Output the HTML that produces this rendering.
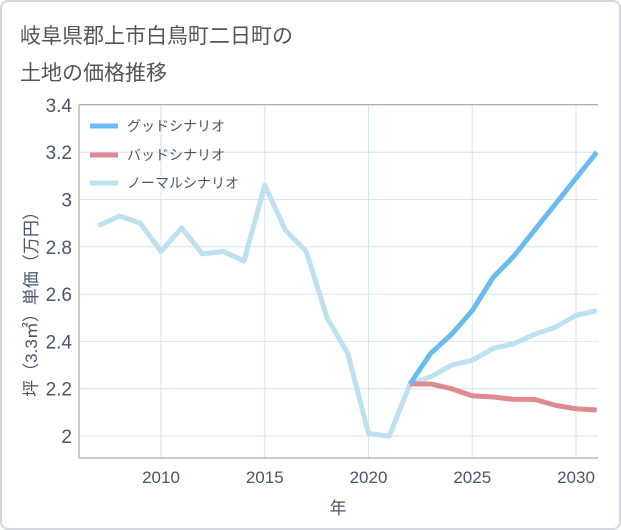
<!DOCTYPE html>
<html><head><meta charset="utf-8"><style>
body{margin:0;background:#fff;font-family:"Liberation Sans","Noto Sans CJK JP",sans-serif}
#wrap{position:relative;width:617px;height:526px;border:2px solid #d4d8de;border-radius:8px;background:#fff}
#title{position:absolute;left:18px;top:16px;font-size:21px;line-height:37px;color:#555}
</style></head><body>
<div id="wrap">
<div id="title">岐阜県郡上市白鳥町二日町の<br>土地の価格推移</div>
<svg id="chart" width="621" height="530" style="position:absolute;left:-2px;top:-2px"></svg>
</div>
<script>
const years=[2007,2008,2009,2010,2011,2012,2013,2014,2015,2016,2017,2018,2019,2020,2021,2022,2023,2024,2025,2026,2027,2028,2029,2030,2031];
const normal=[2.89,2.93,2.90,2.78,2.88,2.77,2.78,2.74,3.06,2.87,2.78,2.50,2.35,2.01,2.00,2.22,2.25,2.30,2.32,2.37,2.39,2.43,2.46,2.51,2.53];
const goodYears=[2022,2023,2024,2025,2026,2027,2028,2029,2030,2031];
const good=[2.22,2.35,2.43,2.53,2.67,2.76,2.87,2.98,3.09,3.20];
const bad=[2.22,2.22,2.20,2.17,2.165,2.155,2.155,2.13,2.115,2.11];
const yTicks=[2,2.2,2.4,2.6,2.8,3,3.2,3.4];
const yTickLabels=["2","2.2","2.4","2.6","2.8","3","3.2","3.4"];
const xTicks=[2010,2015,2020,2025,2030];
const ns="http://www.w3.org/2000/svg",svg=document.getElementById('chart');
const L=79,R=598,T=104.7,B=458;
const x=v=>161+(v-2010)*20.75;
const y=v=>436-(v-2)*236.5/1;
function mk(t,a,p){const e=document.createElementNS(ns,t);for(const k in a)e.setAttribute(k,a[k]);(p||svg).appendChild(e);return e;}
yTicks.forEach((v,i)=>{
 const g=mk('line',{x1:L,x2:R,y1:y(v),y2:y(v),stroke:'#d5e6f0','stroke-width':1});
 
 
 const t=mk('text',{x:L-7,y:y(v)+7,'text-anchor':'end','font-size':19,fill:'#4a5668'});t.textContent=yTickLabels[i];
 
 
});
xTicks.forEach(v=>{
 const g=mk('line',{x1:x(v),x2:x(v),y1:T,y2:B,stroke:'#d5e6f0','stroke-width':1});
 
 
 const t=mk('text',{x:x(v),y:B+25,'text-anchor':'middle','font-size':17,fill:'#4a5668'});t.textContent=v;
 
 
});
const fr=mk('path',{d:`M${L} ${T}H${R}M${L} ${T}V${B}H${R}`,stroke:'#999',fill:'none','stroke-width':1});


const cp=mk('clipPath',{id:'cp'});mk('rect',{x:L,y:T-5,width:R-L,height:B-T+5},cp);
const gg=mk('g',{'clip-path':'url(#cp)'});
function line2(xs,vs,c,name){
 const p=mk('polyline',{points:xs.map((v,i)=>x(v)+','+y(vs[i])).join(' '),fill:'none',stroke:c,'stroke-width':5,'stroke-linejoin':'round'},gg);
 
 
}
line2(years,normal,'#bfe0ee','normal-scenario-line');
line2(goodYears,bad,'#de8a8f','bad-scenario-line');
line2(goodYears,good,'#6bbaf0','good-scenario-line');
[['グッドシナリオ','#6bbaf0',126],['バッドシナリオ','#de8a8f',155],['ノーマルシナリオ','#bfe0ee',183]].forEach(l=>{
 const s=mk('line',{x1:90,x2:118,y1:l[2],y2:l[2],stroke:l[1],'stroke-width':5});
 
 
 const t=mk('text',{x:127,y:l[2]+5,'font-size':14,fill:'#4a5668'});t.textContent=l[0];
 
 
});
const xt=mk('text',{x:338,y:514,'text-anchor':'middle','font-size':17,fill:'#4a5668'});xt.textContent='年';


const yt=mk('text',{x:0,y:0,'text-anchor':'middle','font-size':17,fill:'#4a5668',transform:'translate(37,300) rotate(-90)'});yt.textContent='坪（3.3㎡）単価（万円）';


</script>
</body></html>
